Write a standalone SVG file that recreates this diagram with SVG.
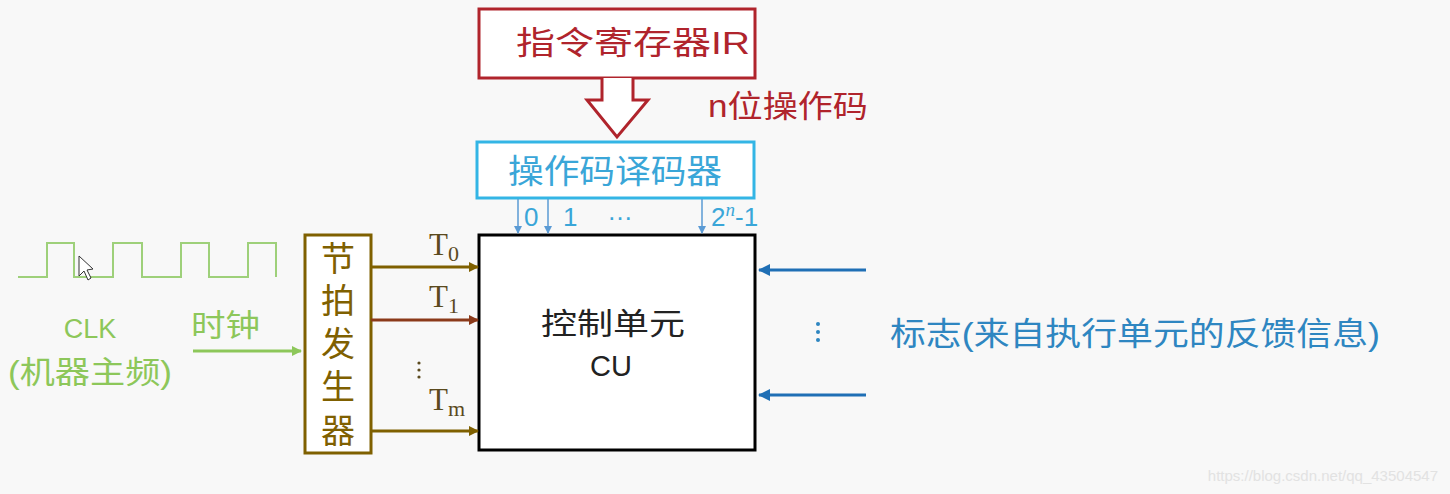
<svg xmlns="http://www.w3.org/2000/svg" width="1450" height="494" viewBox="0 0 1450 494">
<defs>
<style>
.cjk{font-family:"Liberation Sans","Noto Sans CJK SC",sans-serif}
.serif{font-family:"Liberation Serif","DejaVu Serif",serif}
</style>
<marker id="ab" markerWidth="8" markerHeight="8" refX="7" refY="4" orient="auto" markerUnits="userSpaceOnUse"><path d="M0,0 L8,4 L0,8 z" fill="#5b9bd5"/></marker>
<marker id="ag" markerWidth="10" markerHeight="10" refX="9" refY="5" orient="auto" markerUnits="userSpaceOnUse"><path d="M0,0 L10,5 L0,10 z" fill="#8dc75a"/></marker>
<marker id="ao" markerWidth="10" markerHeight="10" refX="9" refY="5" orient="auto" markerUnits="userSpaceOnUse"><path d="M0,0 L10,5 L0,10 z" fill="#7f6000"/></marker>
<marker id="ar" markerWidth="10" markerHeight="10" refX="9" refY="5" orient="auto" markerUnits="userSpaceOnUse"><path d="M0,0 L10,5 L0,10 z" fill="#8b3a1a"/></marker>
<marker id="abl" markerWidth="12" markerHeight="12" refX="11" refY="6" orient="auto" markerUnits="userSpaceOnUse"><path d="M0,0 L12,6 L0,12 z" fill="#1f6fb5"/></marker>
</defs>
<rect width="1450" height="494" fill="#f8f8f8"/>

<g id="ir">
<rect x="479" y="9" width="276" height="69" fill="#ffffff" stroke="#b0242c" stroke-width="3"/>
<text x="516" y="54" font-size="32" fill="#b0242c" class="cjk" textLength="234" lengthAdjust="spacingAndGlyphs">指令寄存器IR</text>
</g>
<g id="opcode-label">
<text x="708" y="117" font-size="31" fill="#b0242c" class="cjk" textLength="160" lengthAdjust="spacingAndGlyphs">n位操作码</text>
</g>
<g id="decoder">
<rect x="477" y="142" width="277" height="56" fill="#ffffff" stroke="#33b5e5" stroke-width="3"/>
<text x="508" y="183" font-size="33" fill="#3aa6d8" class="cjk" textLength="214" lengthAdjust="spacingAndGlyphs">操作码译码器</text>
</g>
<g id="cu">
<rect x="479" y="235" width="276" height="215" fill="#ffffff" stroke="#000000" stroke-width="3"/>
<text x="541" y="334" font-size="30" fill="#222222" class="cjk" textLength="144" lengthAdjust="spacingAndGlyphs">控制单元</text>
<text x="611" y="376" font-size="29" fill="#222222" text-anchor="middle" class="cjk">CU</text>
</g>
<g id="timing">
<rect x="305" y="235" width="66" height="218" fill="#ffffff" stroke="#7f6000" stroke-width="3"/>
<g font-size="34" fill="#7f6000" text-anchor="middle" class="cjk">
<text x="338" y="271">节</text>
<text x="338" y="313">拍</text>
<text x="338" y="356">发</text>
<text x="338" y="399">生</text>
<text x="338" y="443">器</text>
</g>
</g>
<g id="clock">
<polyline points="18,277 47,277 47,243 74,243 74,277 113,277 113,243 142,243 142,277 181,277 181,243 209,243 209,277 248,277 248,243 276,243 276,277" fill="none" stroke="#9ed07a" stroke-width="2"/>
<text x="90" y="338" font-size="27" fill="#8dc75a" text-anchor="middle" class="cjk">CLK</text>
<text x="8" y="383" font-size="31" fill="#8dc75a" class="cjk" textLength="164" lengthAdjust="spacingAndGlyphs">(机器主频)</text>
<text x="191" y="336" font-size="31" fill="#8dc75a" class="cjk" textLength="69" lengthAdjust="spacingAndGlyphs">时钟</text>
<path d="M79,256 L79,276 L84,271 L88,280 L91,278 L87,270 L93,269 z" fill="#ffffff" stroke="#333333" stroke-width="1"/>
</g>
<g id="flags">
<text x="890" y="345" font-size="32" fill="#2e86c1" class="cjk" textLength="490" lengthAdjust="spacingAndGlyphs">标志(来自执行单元的反馈信息)</text>
<g fill="#2e86c1"><circle cx="818" cy="324" r="2"/><circle cx="818" cy="332" r="2"/><circle cx="818" cy="340" r="2"/></g>
</g>
<g id="watermark">
<text x="1438" y="481" font-size="15" fill="#e2e2e2" text-anchor="end" font-family="Liberation Sans, sans-serif">https://blog.csdn.net/qq_43504547</text>
</g>

<g id="connectors">
<path d="M602,78 L602,100 L587,100 L617,137 L648,100 L633,100 L633,78" fill="#ffffff" stroke="#b0242c" stroke-width="3" stroke-linejoin="miter"/>
<line x1="518" y1="199" x2="518" y2="233" stroke="#5b9bd5" stroke-width="1.5" marker-end="url(#ab)"/>
<line x1="548" y1="199" x2="548" y2="233" stroke="#5b9bd5" stroke-width="1.5" marker-end="url(#ab)"/>
<line x1="702" y1="199" x2="702" y2="233" stroke="#5b9bd5" stroke-width="1.5" marker-end="url(#ab)"/>
<g font-size="26" fill="#3aa6d8" class="cjk">
<text x="524" y="226">0</text>
<text x="563" y="226">1</text>
<text x="607" y="220">…</text>
<text x="711" y="226">2<tspan font-size="19" dy="-10" font-style="italic" font-family="Liberation Serif, serif">n</tspan><tspan dy="10">-1</tspan></text>
</g>
<line x1="193" y1="351" x2="301" y2="351" stroke="#8dc75a" stroke-width="3" marker-end="url(#ag)"/>
<line x1="371" y1="267" x2="478" y2="267" stroke="#7f6000" stroke-width="3" marker-end="url(#ao)"/>
<line x1="371" y1="320" x2="478" y2="320" stroke="#8b3a1a" stroke-width="3" marker-end="url(#ar)"/>
<line x1="371" y1="431" x2="478" y2="431" stroke="#7f6000" stroke-width="3" marker-end="url(#ao)"/>
<g font-size="31" fill="#5b4a1e" class="serif">
<text x="429" y="255">T<tspan font-size="22" dy="6">0</tspan></text>
<text x="429" y="307">T<tspan font-size="22" dy="6">1</tspan></text>
<text x="429" y="410">T<tspan font-size="22" dy="6">m</tspan></text>
</g>
<g fill="#5b4a1e"><circle cx="419" cy="363" r="1.6"/><circle cx="419" cy="370" r="1.6"/><circle cx="419" cy="377" r="1.6"/></g>
<line x1="866" y1="270" x2="759" y2="270" stroke="#1f6fb5" stroke-width="3" marker-end="url(#abl)"/>
<line x1="866" y1="395" x2="759" y2="395" stroke="#1f6fb5" stroke-width="3" marker-end="url(#abl)"/>
</g>
</svg>
